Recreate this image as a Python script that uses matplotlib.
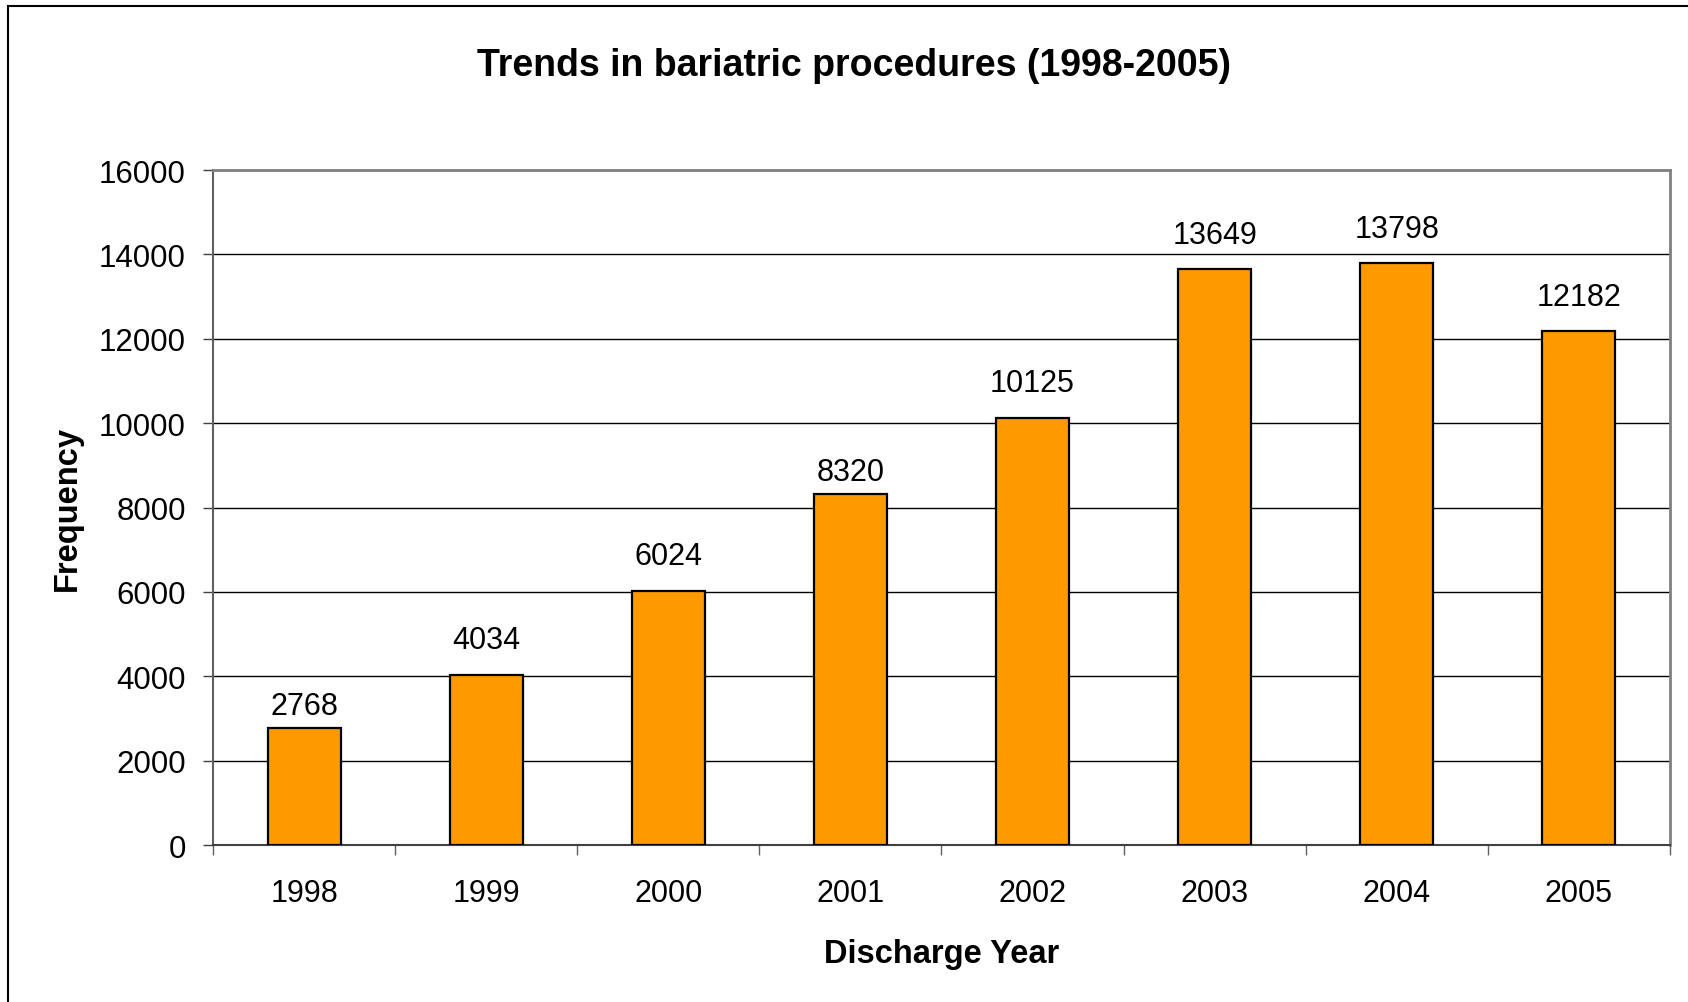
import matplotlib.pyplot as plt
from matplotlib.patches import Rectangle
import numpy as np

plt.rcParams['font.family'] = ['Liberation Sans', 'DejaVu Sans']

years = ['1998', '1999', '2000', '2001', '2002', '2003', '2004', '2005']
frequency = [2768, 4034, 6024, 8320, 10125, 13649, 13798, 12182]
y_ticks = [0, 2000, 4000, 6000, 8000, 10000, 12000, 14000, 16000]

# gap (pt) between bar top and its value label
label_pad = [10, 19, 19, 10, 19, 19, 19, 19]

fig = plt.figure(figsize=(16.88, 10.03), dpi=100)
ax = fig.add_axes([0.1262, 0.1565, 0.8631, 0.673])

x = np.arange(len(years))
ax.bar(x, frequency, width=0.4, color='#FF9900', edgecolor='black', linewidth=1.6, zorder=3)

for xi, v, p in zip(x, frequency, label_pad):
    ax.annotate(str(v), (xi, v), xytext=(0, p), textcoords='offset points',
                ha='center', va='baseline', fontsize=22)

ax.set_xlim(-0.5, len(years) - 0.5)
ax.set_ylim(0, 16000)
ax.set_yticks(y_ticks)
ax.set_yticklabels([str(t) for t in y_ticks])
ax.yaxis.grid(True, color='black', linewidth=1)
ax.set_axisbelow(True)

ax.set_xticks(x)
ax.set_xticklabels(years)
ax.set_xticks(np.arange(-0.5, len(years)), minor=True)
ax.tick_params(axis='x', which='major', length=0, pad=24, labelsize=22)
ax.tick_params(axis='x', which='minor', length=7.5, width=1, color='#606060', direction='out')
ax.tick_params(axis='y', length=7.5, width=1, color='#404040', pad=12, labelsize=22.5)

for s in ['top', 'right']:
    ax.spines[s].set_color('#808080')
    ax.spines[s].set_linewidth(2)
ax.spines['left'].set_color('#606060')
ax.spines['left'].set_linewidth(1.5)
ax.spines['bottom'].set_color('#404040')
ax.spines['bottom'].set_linewidth(1.5)

ax.set_xlabel('Discharge Year', fontsize=23.5, fontweight='bold')
ax.xaxis.set_label_coords(0.5, -0.137)
ax.set_ylabel('Frequency', fontsize=23.5, fontweight='bold', va='center')
ax.yaxis.set_label_coords(-0.1, 0.5)

fig.text(854 / 1688, 1 - 65.5 / 1003, 'Trends in bariatric procedures (1998-2005)',
         ha='center', va='center', fontsize=27, fontweight='bold')

# chart frame (only top and left edges fall inside the image)
fig.patches.append(Rectangle((8 / 1688, -0.2), 2, 0.2 + 1 - 7 / 1003, transform=fig.transFigure,
                             fill=False, edgecolor='black', linewidth=1.5))

fig.savefig('out.png', dpi=100)
